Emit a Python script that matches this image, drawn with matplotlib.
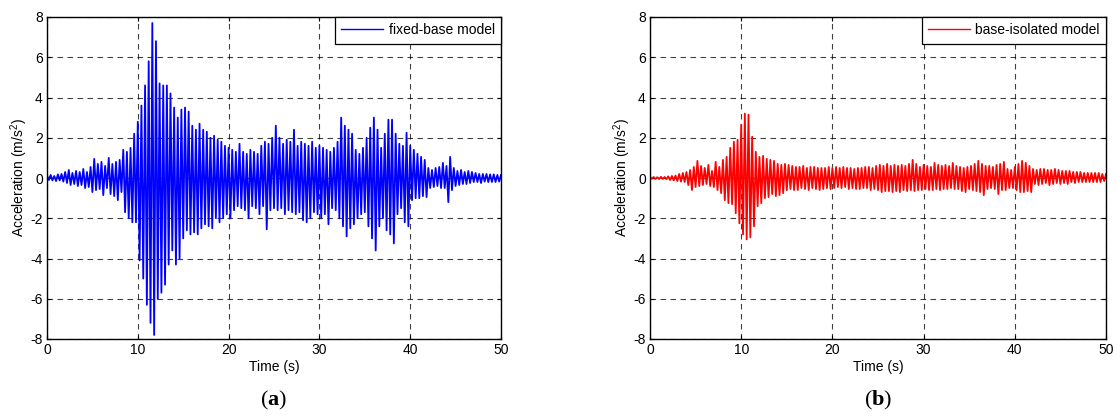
import numpy as np
import matplotlib
matplotlib.use("Agg")
import matplotlib.pyplot as plt

plt.rcParams["font.family"] = ["Liberation Sans", "DejaVu Sans"]
plt.rcParams["axes.unicode_minus"] = False
plt.rcParams["mathtext.fontset"] = "custom"
plt.rcParams["mathtext.rm"] = "Liberation Sans"
plt.rcParams["mathtext.bf"] = "Liberation Serif:bold"

# sample step of the read-off peaks (s); one row = one second
DT = 0.2

# fixed-base model, alternating peaks (m/s^2)
fixed_base = [
    0.12, -0.10, 0.15, -0.12, 0.10,
    -0.15, 0.18, -0.12, 0.20, -0.18,
    0.30, -0.25, 0.40, -0.35, 0.25,
    -0.30, 0.35, -0.40, 0.30, -0.35,
    0.45, -0.50, 0.30, -0.45, 0.55,
    -0.70, 0.95, -0.60, 0.70, -0.55,
    0.80, -0.85, 0.60, -0.50, 1.00,
    -0.80, 0.70, -0.90, 0.80, -1.10,
    0.90, -0.70, 1.40, -1.70, 1.30,
    -2.00, 1.50, -2.20, 2.20, -2.20,
    2.80, -4.10, 3.60, -5.00, 4.60,
    -6.30, 5.80, -7.20, 7.70, -7.80,
    6.80, -6.00, 4.70, -5.70, 4.60,
    -5.30, 4.60, -4.30, 4.20, -3.60,
    3.50, -4.30, 3.00, -4.00, 3.40,
    -3.00, 3.50, -2.60, 3.30, -2.80,
    2.60, -2.70, 2.40, -2.80, 2.70,
    -2.50, 2.40, -2.30, 2.30, -2.40,
    2.00, -2.50, 2.10, -2.00, 1.90,
    -2.20, 1.80, -2.00, 1.60, -1.80,
    1.50, -2.00, 1.40, -1.60, 1.30,
    -1.40, 1.70, -1.50, 1.30, -1.60,
    1.20, -2.00, 1.40, -1.40, 1.30,
    -1.50, 1.20, -1.80, 1.60, -1.40,
    1.80, -2.55, 1.70, -1.60, 2.00,
    -1.50, 2.60, -1.60, 2.00, -1.50,
    1.70, -1.80, 1.90, -1.60, 1.80,
    -1.70, 2.40, -1.80, 1.60, -1.70,
    1.80, -2.10, 1.70, -2.20, 1.60,
    -2.00, 1.80, -1.70, 1.50, -1.80,
    1.60, -2.00, 1.50, -1.80, 1.40,
    -2.30, 1.30, -1.50, 1.50, -1.60,
    1.80, -2.00, 3.00, -2.40, 2.60,
    -2.90, 2.40, -2.50, 2.20, -2.30,
    1.40, -2.00, 1.20, -1.80, 1.50,
    -1.70, 2.00, -2.40, 2.50, -3.00,
    3.00, -3.60, 2.40, -2.40, 1.50,
    -2.00, 2.20, -2.60, 2.90, -2.80,
    2.90, -3.25, 2.20, -1.80, 1.70,
    -1.50, 1.60, -2.20, 2.25, -2.40,
    1.60, -1.10, 1.40, -1.00, 1.20,
    -1.00, 1.05, -0.90, 0.90, -0.95,
    0.50, -0.50, 0.40, -0.45, 0.50,
    -0.40, 0.55, -0.50, 0.75, -0.50,
    0.60, -1.20, 1.05, -0.60, 0.50,
    -0.40, 0.35, -0.35, 0.40, -0.30,
    0.30, -0.30, 0.35, -0.25, 0.30,
    -0.20, 0.25, -0.20, 0.20, -0.25,
    0.20, -0.18, 0.20, -0.20, 0.18,
    -0.20, 0.18, -0.20, 0.15, -0.18,
    0.15,
]

# base-isolated model
base_isolated = [
    0.05, -0.04, 0.05, -0.05, 0.04,
    -0.05, 0.06, -0.05, 0.05, -0.06,
    0.08, -0.10, 0.10, -0.12, 0.12,
    -0.15, 0.20, -0.18, 0.25, -0.20,
    0.30, -0.35, 0.40, -0.60, 0.55,
    -0.45, 0.85, -0.40, 0.60, -0.35,
    0.50, -0.30, 0.65, -0.40, 0.35,
    -0.45, 0.80, -0.60, 0.55, -0.75,
    0.90, -1.10, 1.05, -1.25, 1.50,
    -1.30, 1.80, -1.75, 1.90, -2.25,
    2.65, -2.80, 3.20, -3.05, 3.15,
    -2.95, 2.05, -2.40, 1.30, -1.40,
    1.05, -1.25, 1.10, -1.00, 0.95,
    -0.95, 0.90, -0.80, 0.85, -0.90,
    0.70, -0.85, 0.65, -0.75, 0.70,
    -0.60, 0.65, -0.55, 0.60, -0.60,
    0.55, -0.60, 0.55, -0.50, 0.60,
    -0.55, 0.50, -0.60, 0.55, -0.50,
    0.55, -0.55, 0.50, -0.60, 0.50,
    -0.55, 0.50, -0.50, 0.55, -0.55,
    0.50, -0.50, 0.55, -0.45, 0.50,
    -0.50, 0.55, -0.45, 0.50, -0.55,
    0.50, -0.50, 0.45, -0.55, 0.50,
    -0.55, 0.50, -0.50, 0.55, -0.50,
    0.55, -0.60, 0.50, -0.55, 0.60,
    -0.60, 0.65, -0.70, 0.60, -0.65,
    0.70, -0.65, 0.60, -0.70, 0.65,
    -0.65, 0.60, -0.70, 0.65, -0.60,
    0.60, -0.65, 0.70, -0.60, 0.90,
    -0.65, 0.70, -0.60, 0.55, -0.60,
    0.65, -0.55, 0.60, -0.60, 0.55,
    -0.60, 0.75, -0.55, 0.65, -0.60,
    0.60, -0.55, 0.65, -0.55, 0.60,
    -0.50, 0.75, -0.55, 0.60, -0.55,
    0.55, -0.65, 0.50, -0.70, 0.55,
    -0.55, 0.60, -0.60, 0.70, -0.65,
    0.85, -0.70, 0.70, -0.85, 0.60,
    -0.55, 0.60, -0.50, 0.55, -0.55,
    0.65, -0.80, 0.70, -0.60, 0.80,
    -0.60, 0.45, -0.50, 0.40, -0.50,
    0.55, -0.60, 0.70, -0.70, 0.85,
    -0.70, 0.75, -0.65, 0.60, -0.70,
    0.45, -0.30, 0.40, -0.35, 0.45,
    -0.30, 0.45, -0.25, 0.40, -0.35,
    0.40, -0.30, 0.45, -0.25, 0.40,
    -0.30, 0.35, -0.25, 0.35, -0.30,
    0.35, -0.20, 0.30, -0.25, 0.30,
    -0.20, 0.30, -0.20, 0.25, -0.20,
    0.25, -0.20, 0.25, -0.20, 0.25,
    -0.20, 0.25, -0.20, 0.20, -0.15,
    0.20,
]

series = [
    (fixed_base, "blue", "fixed-base model", "a"),
    (base_isolated, "red", "base-isolated model", "b"),
]
xticks = [0, 10, 20, 30, 40, 50]
yticks = [-8, -6, -4, -2, 0, 2, 4, 6, 8]

fig = plt.figure(figsize=(11.17, 4.16), dpi=100)
lefts = [47 / 1117, 650 / 1117]
widths = [454 / 1117, 456 / 1117]

for (vals, col, name, tag), left, w in zip(series, lefts, widths):
    ax = fig.add_axes([left, 77 / 416, w, 322 / 416])
    t = np.arange(len(vals)) * DT
    ax.plot(t, vals, color=col, lw=1.3, label=name)
    ax.set_xlim(0, 50)
    ax.set_ylim(-8, 8)
    ax.set_xticks(xticks)
    ax.set_yticks(yticks)
    ax.grid(True, color="black", ls=(0, (5, 4)), lw=0.8, alpha=0.75)
    ax.tick_params(direction="in", top=True, right=True, labelsize=10,
                   length=3, pad=3)
    for s in ax.spines.values():
        s.set_linewidth(1.0)
    ax.set_xlabel("Time (s)", fontsize=10, labelpad=2)
    ax.set_ylabel("Acceleration (m/s$^2$)", fontsize=10, labelpad=0.5)
    leg = ax.legend(loc="upper right", fontsize=10, fancybox=False,
                    framealpha=1, edgecolor="black", borderaxespad=0,
                    handlelength=3.0, handletextpad=0.4, borderpad=0.45)
    leg.get_frame().set_linewidth(0.9)
    leg.get_lines()[0].set_linewidth(1.0)
    cx = left + w / 2
    fig.text(cx, 16 / 416, "(" + r"$\mathbf{" + tag + "}$" + ")",
             ha="center", va="center", fontsize=16,
             family="Liberation Serif")

fig.savefig("out.png", dpi=100)
